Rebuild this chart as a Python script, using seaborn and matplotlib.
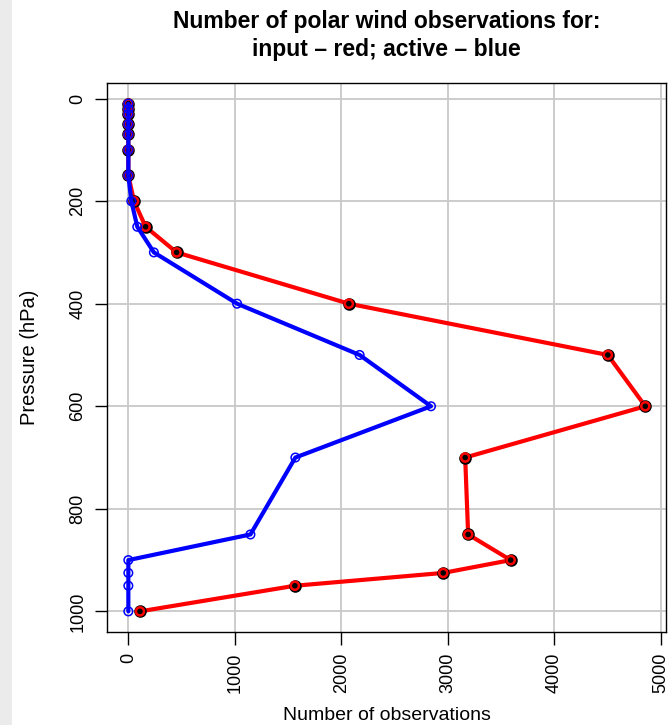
import matplotlib
matplotlib.use("Agg")
import matplotlib.pyplot as plt
import seaborn as sns
import pandas as pd
from matplotlib.patches import Rectangle

levels = [10, 20, 30, 50, 70, 100, 150, 200, 250, 300, 400, 500, 600, 700, 850, 900, 925, 950, 1000]
input_counts = [0, 0, 0, 0, 0, 0, 0, 53, 162, 453, 2070, 4501, 4853, 3162, 3190, 3589, 2956, 1563, 109]
active_counts = [0, 0, 0, 0, 0, 0, 0, 28, 84, 240, 1021, 2171, 2841, 1568, 1146, 0, 0, 0, 0]
xticks = [0, 1000, 2000, 3000, 4000, 5000]
yticks = [0, 200, 400, 600, 800, 1000]

df = pd.DataFrame({"level": levels, "input": input_counts, "active": active_counts})

sns.set_style("white")
plt.rcParams['font.family'] = ['Liberation Sans', 'DejaVu Sans']
plt.rcParams['text.color'] = 'black'
plt.rcParams['axes.labelcolor'] = 'black'
plt.rcParams['xtick.color'] = 'black'
plt.rcParams['ytick.color'] = 'black'

fig = plt.figure(figsize=(6.71, 7.25), dpi=100)
fig.patches.append(Rectangle((0, 0), 12 / 671, 1, transform=fig.transFigure,
                             facecolor="#ebebeb", edgecolor="none", zorder=0))
ax = fig.add_axes([0.16, 0.1287, 0.8325, 0.7563])

for v in xticks:
    ax.axvline(v, color="#c8c8c8", lw=1.3, zorder=0)
for v in yticks:
    ax.axhline(v, color="#c8c8c8", lw=1.3, zorder=0)

sns.lineplot(data=df, x="input", y="level", sort=False, estimator=None, color="red",
             lw=3, ax=ax, zorder=2)
sns.scatterplot(data=df, x="input", y="level", color="black", s=82, linewidth=0,
                ax=ax, zorder=3)
sns.scatterplot(data=df, x="input", y="level", facecolor="none", edgecolor="red", s=34,
                linewidth=1.8, ax=ax, zorder=4)
sns.lineplot(data=df, x="active", y="level", sort=False, estimator=None, color="blue",
             lw=3, ax=ax, zorder=5)
sns.scatterplot(data=df, x="active", y="level", facecolor="none", edgecolor="blue", s=38,
                linewidth=1.1, ax=ax, zorder=6)

ax.set_xlim(-197, 5047)
ax.set_ylim(1039.6, -29.6)
ax.set_xticks(xticks)
ax.set_yticks(yticks)
ax.set_xticklabels([str(v) for v in xticks], rotation=90, fontsize=13)
ax.set_yticklabels([str(v) for v in yticks], rotation=90, va="center", fontsize=13)
ax.tick_params(axis="both", which="major", direction="out", length=9, width=1,
               color="black", pad=6, bottom=True, left=True)
for s in ax.spines.values():
    s.set_color("black")
    s.set_linewidth(1)

ax.set_xlabel("Number of observations", fontsize=14, labelpad=10)
ax.set_ylabel("Pressure (hPa)", fontsize=14.5, labelpad=22)
ax.set_title("Number of polar wind observations for:\ninput \u2013 red; active \u2013 blue",
             fontsize=16.5, fontweight="bold", pad=19.5, linespacing=1.32)

fig.savefig("out.png", dpi=100)
